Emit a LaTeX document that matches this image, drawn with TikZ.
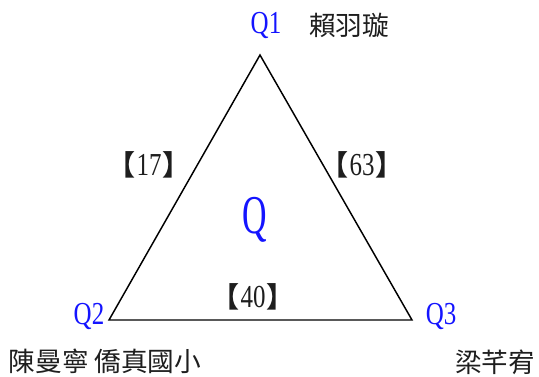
\documentclass[tikz,border=0pt]{standalone}
\usepackage{fontspec}
\newfontfamily\lat[FakeStretch=0.78]{Liberation Serif}
\newfontfamily\latq[FakeStretch=0.62]{Liberation Serif}
\newfontfamily\cjk{Noto Sans CJK TC}
\definecolor{qblue}{RGB}{20,20,255}
\definecolor{txt}{RGB}{30,30,30}
\newcommand{\lb}{{\cjk\bfseries\fontsize{21}{21}\selectfont\hspace{-0.5em}【\hspace{0.05em}}}
\newcommand{\rb}{{\cjk\bfseries\fontsize{21}{21}\selectfont\hspace{0.05em}】\hspace{-0.5em}}}
\newcommand{\dg}[1]{{\lat\fontsize{24}{24}\selectfont #1}}
\begin{document}
\begin{tikzpicture}[x=0.75pt,y=-0.75pt,
  qlab/.style={text=qblue,font=\lat\fontsize{24}{24}\selectfont,inner sep=0pt},
  cjkname/.style={text=txt,font=\cjk\fontsize{20}{20}\selectfont,inner sep=0pt},
  edgelab/.style={text=txt,inner sep=0pt},
  tri/.style={draw=black,line width=1.1pt,line join=miter}]
\useasboundingbox (0,0) rectangle (539,376);
\coordinate (v1) at (260,55);
\coordinate (v2) at (109,320);
\coordinate (v3) at (412,320);
\draw[tri] (v1) -- (v2) -- (v3) -- cycle;
\node[qlab] (q1) at (266,25) {Q1};
\node[qlab] (q2) at (89,316) {Q2};
\node[qlab] (q3) at (441,316) {Q3};
\node[text=qblue,font=\latq\fontsize{41}{41}\selectfont,inner sep=0pt] (q) at (255,220) {Q};
\node[cjkname] (n1) at (349,25) {賴羽璇};
\node[cjkname] (n2) at (105,361) {陳曼寧 僑真國小};
\node[cjkname] (n3) at (495,362) {梁芊宥};
\node[edgelab] (e12) at (156,165) {\lb\dg{17}\rb};
\node[edgelab] (e13) at (369,165) {\lb\dg{63}\rb};
\node[edgelab] (e23) at (260,297) {\lb\dg{40}\rb};
\end{tikzpicture}
\end{document}
